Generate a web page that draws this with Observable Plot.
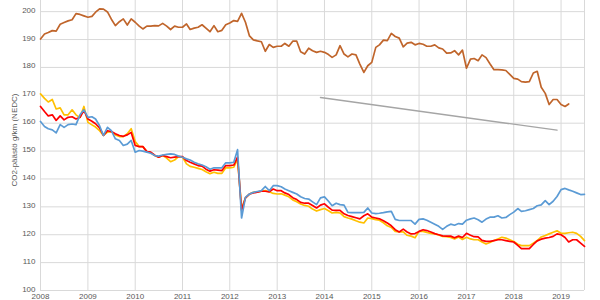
<!DOCTYPE html>
<html>
<head>
<meta charset="utf-8">
<script src="https://cdn.jsdelivr.net/npm/d3@7"></script>
<script src="https://cdn.jsdelivr.net/npm/@observablehq/plot@0.6"></script>
<style>
  html, body { margin: 0; padding: 0; background: #fff; }
  #chart { width: 600px; height: 300px; overflow: hidden; }
</style>
</head>
<body>
<div id="chart"></div>
<script>
// Monthly series, starting January 2008
const startYear = 2008;
const brown = [190.2,192.0,192.5,193.2,193.0,195.5,196.1,196.7,197.1,199.3,199.0,198.5,
  198.0,198.3,199.8,201.0,200.9,199.9,197.3,195.0,196.4,197.4,195.2,197.4,
  196.2,194.8,193.8,194.8,194.8,195.0,194.9,195.8,194.8,193.6,194.8,194.4,
  194.4,195.6,193.6,194.1,194.4,195.3,194.1,192.8,195.0,192.8,193.3,195.3,
  195.9,196.8,196.5,199.4,196.2,191.3,189.9,189.5,189.2,185.8,188.2,187.2,
  187.6,187.6,188.6,187.6,189.4,189.4,185.6,184.8,186.9,186.0,185.4,185.8,
  185.4,184.6,183.6,184.5,187.8,184.8,183.8,184.8,184.5,181.2,178.2,180.6,
  181.8,187.2,188.1,189.8,189.6,192.2,191.1,190.5,187.4,188.7,189.0,188.1,
  188.6,188.3,187.6,187.6,188.1,187.0,186.6,185.1,185.2,186.0,184.5,186.2,
  179.7,183.0,183.2,182.4,184.5,183.5,181.3,179.2,179.2,179.1,178.9,177.5,
  176.1,175.8,174.9,174.7,174.9,178.0,178.6,172.9,170.7,166.7,168.5,168.5,
  166.7,166.0,166.9];
const red = [166.0,164.2,162.6,163.0,161.0,162.6,161.2,162.1,162.3,161.5,162.1,164.6,
  161.5,160.7,159.8,158.3,155.6,157.3,157.0,156.2,155.6,155.3,155.8,156.7,
  152.0,151.6,151.6,149.8,149.6,148.5,147.8,148.4,148.0,147.6,147.8,148.0,
  148.0,146.6,146.0,145.4,144.8,144.6,143.5,142.8,143.3,143.2,143.0,144.8,
  144.8,145.0,147.8,128.8,133.2,134.6,135.0,135.3,135.6,135.6,135.4,136.4,
  135.8,135.8,135.0,134.4,133.3,132.6,131.6,131.3,131.3,130.5,129.6,130.6,
  131.1,129.8,128.8,128.7,128.7,127.5,126.9,126.5,126.1,125.7,126.8,127.5,
  126.3,126.0,125.7,125.0,124.2,123.2,121.8,121.0,122.0,121.0,120.3,120.4,
  121.2,121.8,121.5,121.0,120.4,120.0,119.6,119.5,119.5,118.9,119.5,119.0,
  120.5,119.8,119.3,119.2,118.0,117.6,117.6,117.9,118.2,118.2,117.9,117.6,
  117.4,116.2,115.0,115.0,115.0,116.5,117.8,118.4,118.8,119.0,119.4,120.3,
  120.0,119.0,117.4,118.2,118.2,117.0,115.8];
const yellow = [170.5,168.9,167.6,168.5,165.1,165.5,163.0,163.0,164.8,163.0,162.0,166.0,
  160.3,159.4,158.6,157.3,155.6,156.8,157.0,155.8,155.2,155.2,156.2,158.0,
  153.4,151.6,151.6,149.8,149.4,148.4,147.8,148.4,147.5,146.2,146.8,148.0,
  147.8,145.4,144.5,144.2,143.8,143.4,142.6,141.9,142.4,142.0,142.0,144.0,
  144.0,144.2,147.0,129.5,133.2,134.6,135.2,135.4,135.6,135.8,135.4,134.8,
  134.6,134.7,134.2,133.6,132.5,131.8,131.0,130.5,130.2,129.2,128.5,129.0,
  129.4,128.6,127.8,128.0,127.8,126.5,126.0,125.6,125.0,124.5,124.2,126.0,
  125.8,125.4,125.2,124.3,123.2,122.6,121.2,121.0,121.0,119.8,119.5,118.9,
  121.2,121.2,120.8,120.5,120.3,119.9,119.4,119.3,119.0,118.5,119.2,118.3,
  119.1,118.5,118.2,118.2,117.4,116.7,117.2,117.9,118.5,119.1,118.8,118.2,
  117.6,116.6,116.1,116.1,116.1,117.0,117.9,119.2,119.7,120.3,120.9,121.4,
  120.5,120.5,120.7,120.9,120.5,119.4,117.9];
const blue = [160.6,158.8,158.0,157.6,156.5,159.5,158.5,159.5,159.7,159.5,163.0,164.8,
  162.1,162.3,161.5,159.1,155.6,158.5,157.3,154.4,153.8,152.0,152.5,153.8,
  149.6,150.2,150.0,149.6,149.2,148.4,148.2,148.6,148.8,149.0,148.8,148.2,
  147.8,147.2,146.8,146.0,145.4,145.0,144.4,143.5,144.0,144.0,144.0,145.8,
  145.8,146.0,150.5,126.0,133.4,134.6,135.2,135.5,135.8,137.3,135.8,137.6,
  137.6,137.2,136.4,135.8,135.2,134.6,133.6,133.0,132.8,131.8,130.8,133.2,
  133.6,132.0,130.4,131.3,130.8,130.6,128.0,127.9,127.9,127.9,128.0,129.6,
  127.8,127.6,127.7,127.9,128.2,128.4,125.5,125.1,125.1,125.1,125.1,123.8,
  125.5,125.7,125.2,124.5,123.8,123.0,121.9,123.0,123.8,123.4,124.0,123.8,
  125.2,125.7,126.0,125.4,124.5,125.6,126.3,126.3,126.8,126.0,126.2,127.2,
  128.1,129.4,128.4,128.6,129.0,129.4,130.4,130.7,132.2,130.8,132.0,133.7,
  136.2,136.6,136.1,135.6,135.0,134.4,134.5];
// Trend line end points (year, month index 0-based) and values
const trendDates = [[2013, 11], [2018, 11]];
const trendValues = [169.2, 157.5];
const yTicks = [100, 110, 120, 130, 140, 150, 160, 170, 180, 190, 200];
const xTickYears = [2008, 2009, 2010, 2011, 2012, 2013, 2014, 2015, 2016, 2017, 2018, 2019];
const yLabel = "CO2-päästö g/km (NEDC)";

const toRows = (arr) => arr.map((v, i) => ({date: new Date(Date.UTC(startYear, i, 1)), value: v}));
const trendRows = trendDates.map((d, i) => ({date: new Date(Date.UTC(d[0], d[1], 1)), value: trendValues[i]}));
const xTicks = xTickYears.map(y => new Date(Date.UTC(y, 0, 1)));
const xEnd = new Date(Date.UTC(2019, 6, 1));

const grid = "#d9d9d9";
const plot = Plot.plot({
  width: 600,
  height: 300,
  marginLeft: 40,
  marginRight: 16,
  marginTop: 0,
  marginBottom: 10,
  style: {fontFamily: "Liberation Sans, Arial, sans-serif", fontSize: "8px", color: "#595959", background: "#fff", overflow: "visible"},
  x: {type: "utc", domain: [xTicks[0], xEnd], label: null},
  y: {domain: [100, 204], label: null},
  marks: [
    Plot.ruleY(yTicks, {stroke: grid, strokeWidth: 1}),
    Plot.ruleX(xTicks, {stroke: grid, strokeWidth: 1}),
    Plot.ruleX([xEnd], {stroke: grid, strokeWidth: 1}),
    Plot.axisX({ticks: xTicks, tickFormat: d3.utcFormat("%Y"), tickSize: 0, tickPadding: 3, label: null}),
    Plot.axisY({ticks: yTicks, tickSize: 0, tickPadding: 5, dy: -1.5, label: null}),
    Plot.lineY(toRows(yellow), {x: "date", y: "value", stroke: "#FFC000", strokeWidth: 1.7}),
    Plot.lineY(toRows(red), {x: "date", y: "value", stroke: "#FF0000", strokeWidth: 1.7}),
    Plot.lineY(toRows(blue), {x: "date", y: "value", stroke: "#5B9BD5", strokeWidth: 1.7}),
    Plot.lineY(toRows(brown), {x: "date", y: "value", stroke: "#C0652B", strokeWidth: 1.7}),
    Plot.lineY(trendRows, {x: "date", y: "value", stroke: "#A5A5A5", strokeWidth: 1.4})
  ]
});
document.getElementById("chart").appendChild(plot);
d3.select(plot).append("text")
  .attr("transform", "translate(15,140) rotate(-90)")
  .attr("text-anchor", "middle")
  .attr("dominant-baseline", "middle")
  .attr("fill", "#595959")
  .attr("font-size", "8px")
  .text(yLabel);
</script>
</body>
</html>
